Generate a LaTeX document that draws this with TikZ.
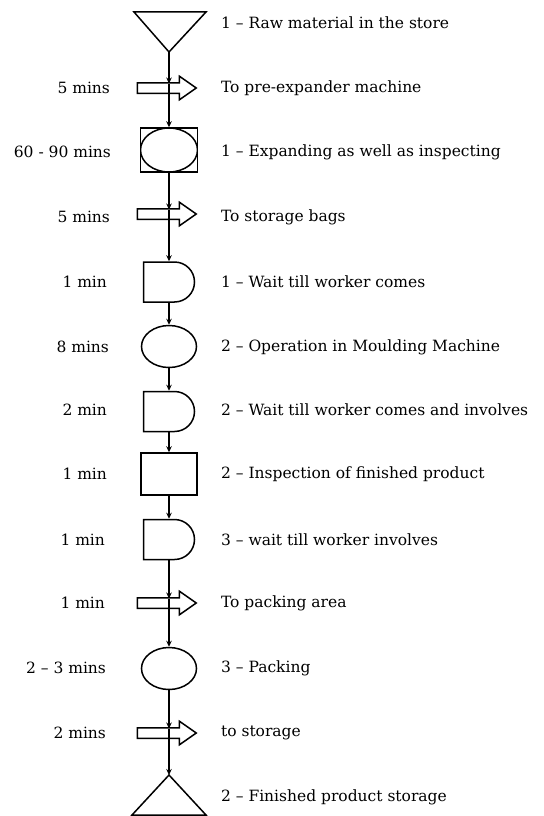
\documentclass[tikz,border=0pt]{standalone}
\usepackage{fontspec}
\setmainfont{DejaVu Serif}
\usetikzlibrary{arrows.meta, shapes.arrows, shapes.misc, shapes.geometric}

\begin{document}
\begin{tikzpicture}[x=1bp, y=-1bp, line width=1.5bp, >={Stealth[length=6bp, width=5.5bp]},
        every node/.style={font=\fontsize{15.5bp}{18bp}\selectfont},
        move/.style={draw, single arrow, minimum height=59bp, inner sep=4.5bp, xshift=-6bp,
            single arrow head extend=6.5bp, single arrow tip angle=70},
        wait/.style={draw, rounded rectangle, rounded rectangle left arc=none,
            minimum width=51bp, minimum height=40bp, inner sep=0pt},
        oper/.style={draw, ellipse, minimum width=55bp, minimum height=42bp, inner sep=0pt},
        time/.style={anchor=east},
        desc/.style={anchor=west}]
        \useasboundingbox (0, 0) rectangle (544, 816);

        \coordinate (store) at (169, 52);
        \draw (134, 12) -- (206, 12) -- (store) -- cycle;
        \coordinate (move1) at (169, 83.5);
        \node[move] (move1_arrow) at (169, 88) {};
        \node[draw, minimum width=57bp, minimum height=44bp, inner sep=0pt,
            path picture={\draw (path picture bounding box.center) ellipse (28.5bp and 22bp);}]
            (expand) at (169, 150) {};
        \coordinate (move2) at (169, 209.5);
        \node[move] (move2_arrow) at (169, 214) {};
        \node[wait] (wait1) at (169, 282) {};
        \node[oper] (mould) at (169, 346.5) {};
        \node[wait] (wait2) at (169, 411.5) {};
        \node[draw, minimum width=56bp, minimum height=42bp, inner sep=0pt] (inspect) at (169, 474) {};
        \node[wait] (wait3) at (169, 539.5) {};
        \coordinate (move3) at (169, 598.5);
        \node[move] (move3_arrow) at (169, 603) {};
        \node[oper] (pack) at (169, 668.5) {};
        \coordinate (move4) at (169, 728.5);
        \node[move] (move4_arrow) at (169, 733) {};
        \coordinate (finish) at (169, 775);
        \draw (finish) -- (206, 815) -- (132, 815) -- cycle;

        \draw[->] (store) -- (move1);
        \draw[->] (move1) -- (expand);
        \draw[->] (expand) -- (move2);
        \draw[->] (move2) -- (wait1);
        \draw[->] (wait1) -- (mould);
        \draw[->] (mould) -- (wait2);
        \draw[->] (wait2) -- (inspect);
        \draw[->] (inspect) -- (wait3);
        \draw[->] (wait3) -- (move3);
        \draw[->] (move3) -- (pack);
        \draw[->] (pack) -- (move4);
        \draw[->] (move4) -- (finish);

        \node[time] (move1_time) at (114, 88) {5 mins};
        \node[time] (expand_time) at (115, 152) {60 - 90 mins};
        \node[time] (move2_time) at (114, 217) {5 mins};
        \node[time] (wait1_time) at (111, 282) {1 min};
        \node[time] (mould_time) at (113, 347) {8 mins};
        \node[time] (wait2_time) at (111, 410) {2 min};
        \node[time] (inspect_time) at (111, 474) {1 min};
        \node[time] (wait3_time) at (109, 540) {1 min};
        \node[time] (move3_time) at (109, 603) {1 min};
        \node[time] (pack_time) at (110, 668) {2 – 3 mins};
        \node[time] (move4_time) at (110, 733) {2 mins};

        \node[desc] (store_txt) at (217, 23) {1 – Raw material in the store};
        \node[desc] (move1_txt) at (217, 88) {To pre-expander machine};
        \node[desc] (expand_txt) at (217, 152) {1 – Expanding as well as inspecting};
        \node[desc] (move2_txt) at (217, 217) {To storage bags};
        \node[desc] (wait1_txt) at (217, 282) {1 – Wait till worker comes};
        \node[desc] (mould_txt) at (217, 347) {2 – Operation in Moulding Machine};
        \node[desc] (wait2_txt) at (217, 410) {2 – Wait till worker comes and involves};
        \node[desc] (inspect_txt) at (217, 474) {2 – Inspection of finished product};
        \node[desc] (wait3_txt) at (217, 540) {3 – wait till worker involves};
        \node[desc] (move3_txt) at (217, 603) {To packing area};
        \node[desc] (pack_txt) at (217, 668) {3 – Packing};
        \node[desc] (move4_txt) at (217, 733) {to storage};
        \node[desc] (finish_txt) at (217, 797) {2 – Finished product storage};
\end{tikzpicture}
\end{document}
